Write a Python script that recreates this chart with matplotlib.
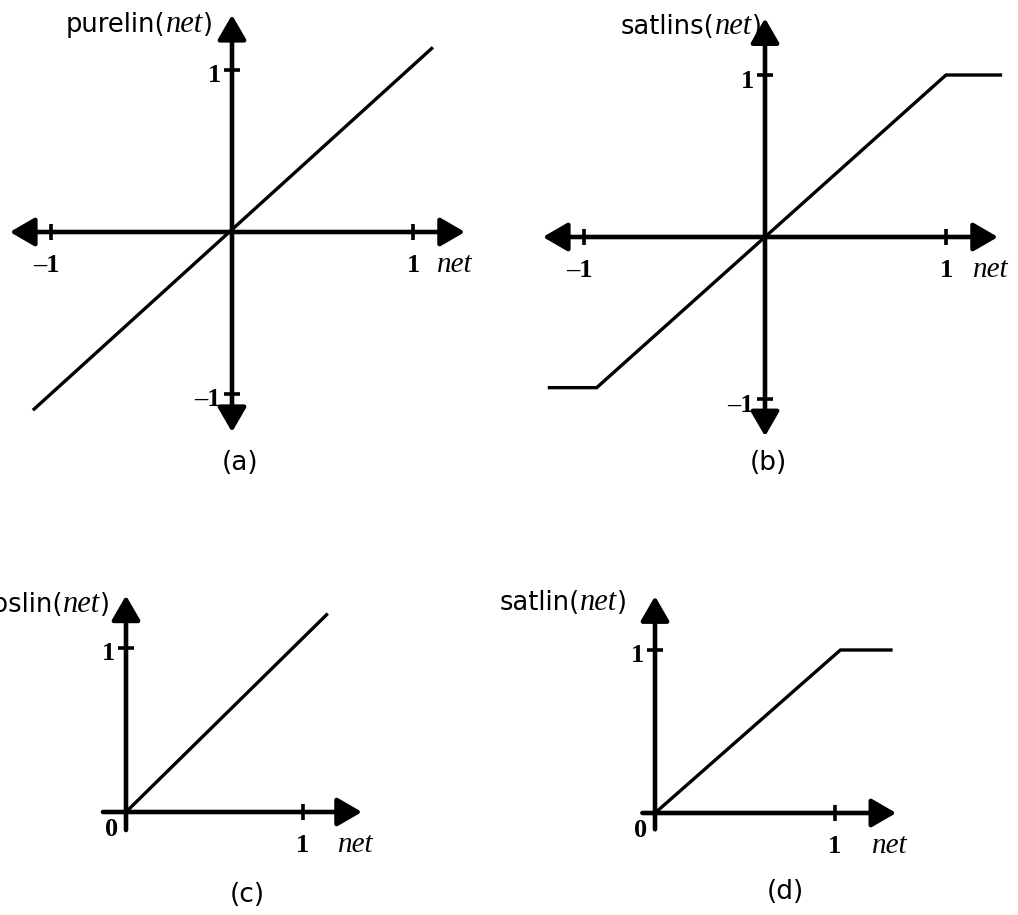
import matplotlib
matplotlib.use("Agg")
import matplotlib.pyplot as plt
from matplotlib.offsetbox import TextArea, HPacker, AnnotationBbox

W, H = 1018, 915

# transfer functions, sampled at their corners
purelin_net = [-1.10, 1.11]
purelin_out = [-1.10, 1.14]
satlins_net = [-1.20, -0.93, 1.00, 1.31]
satlins_out = [-0.93, -0.93, 1.00, 1.00]
poslin_net = [0.0, 1.14]
poslin_out = [0.0, 1.21]
satlin_net = [0.0, 1.03, 1.32]
satlin_out = [0.0, 1.00, 1.00]

sym_ticks = [-1, 1]
pos_ticks = [1]
tick_text = {-1: "\u20131", 1: "1"}

names = ["purelin", "satlins", "poslin", "satlin"]
captions = ["(a)", "(b)", "(c)", "(d)"]

AX_LW = 3.3
FN_LW = 2.4
SANS = "DejaVu Sans"
SERIF = "Liberation Serif"

# pixel layout of each panel: box, origin, unit length, axis extents
panels = [
    dict(net=purelin_net, out=purelin_out, ticks=sym_ticks, both=True,
         box=(0, 0, 509, 480), origin=(232, 232), unit=(181, 162),
         xspan=(-1.227, 1.287), yspan=(-1.235, 1.34),
         title_at=(213, 24), net_at=1.13, cap_at=(240, 463)),
    dict(net=satlins_net, out=satlins_out, ticks=sym_ticks, both=True,
         box=(509, 0, 1018, 480), origin=(765, 237), unit=(181, 162),
         xspan=(-1.227, 1.287), yspan=(-1.23, 1.35),
         title_at=(762, 27), net_at=1.15, cap_at=(768, 463)),
    dict(net=poslin_net, out=poslin_out, ticks=pos_ticks, both=False,
         box=(0, 540, 509, 915), origin=(126, 812), unit=(177, 164),
         xspan=(-0.13, 1.333), yspan=(-0.11, 1.32),
         title_at=(110, 605), net_at=1.20, cap_at=(247, 895)),
    dict(net=satlin_net, out=satlin_out, ticks=pos_ticks, both=False,
         box=(509, 540, 1018, 915), origin=(655, 813), unit=(180, 163),
         xspan=(-0.07, 1.34), yspan=(-0.1, 1.33),
         title_at=(627, 603), net_at=1.205, cap_at=(785, 892)),
]

fig = plt.figure(figsize=(W / 100, H / 100), dpi=100)


def draw_panel(p, name, caption):
    x0, y0, x1, y1 = p["box"]
    ox, oy = p["origin"]
    sx, sy = p["unit"]
    ax = fig.add_axes([x0 / W, 1 - y1 / H, (x1 - x0) / W, (y1 - y0) / H])
    ax.set_xlim((x0 - ox) / sx, (x1 - ox) / sx)
    ax.set_ylim((oy - y1) / sy, (oy - y0) / sy)
    ax.axis("off")

    # axes with arrow heads
    style = "<|-|>" if p["both"] else "-|>"
    arrow = dict(arrowstyle=style + ",head_length=0.5,head_width=0.29",
                 mutation_scale=30, lw=AX_LW, color="black",
                 shrinkA=0, shrinkB=0)
    ax.annotate("", xy=(p["xspan"][1], 0), xytext=(p["xspan"][0], 0),
                arrowprops=arrow, annotation_clip=False)
    ax.annotate("", xy=(0, p["yspan"][1]), xytext=(0, p["yspan"][0]),
                arrowprops=arrow, annotation_clip=False)

    # tick marks
    ticks = p["ticks"]
    ax.plot(ticks, [0] * len(ticks), ls="none", marker="|", ms=12,
            mew=2.6, color="black", clip_on=False)
    ax.plot([0] * len(ticks), ticks, ls="none", marker="_", ms=12,
            mew=2.6, color="black", clip_on=False)

    num = dict(family=SERIF, weight="bold", fontsize=19)
    for t in ticks:
        ax.annotate(tick_text[t], xy=(t, 0), xytext=(-3 if t < 0 else 0, -29),
                    textcoords="offset points", ha="center", va="baseline", **num)
        ax.annotate(tick_text[t], xy=(0, t), xytext=(-8, -9),
                    textcoords="offset points", ha="right", va="baseline", **num)
    if not p["both"]:
        ax.annotate("0", xy=(0, 0), xytext=(-6, -17), textcoords="offset points",
                    ha="right", va="baseline", **num)

    ax.annotate("net", xy=(p["net_at"], 0), xytext=(0, -29),
                textcoords="offset points", ha="left", va="baseline",
                family=SERIF, style="italic", fontsize=21)

    # the function itself
    ax.plot(p["net"], p["out"], color="black", lw=FN_LW,
            solid_capstyle="butt", solid_joinstyle="miter", clip_on=False)

    # y label: name(net)
    parts = [
        TextArea(name + "(", textprops=dict(family=SANS, fontsize=18.5)),
        TextArea("net", textprops=dict(family=SERIF, style="italic", fontsize=22)),
        TextArea(")", textprops=dict(family=SANS, fontsize=18.5)),
    ]
    box = HPacker(children=parts, align="baseline", pad=0, sep=0)
    tx, ty = p["title_at"]
    ab = AnnotationBbox(box, (tx, H - ty), xycoords="figure pixels",
                        box_alignment=(1, 0.5), frameon=False, pad=0)
    fig.add_artist(ab)

    cx, cy = p["cap_at"]
    fig.text(cx / W, 1 - cy / H, caption, ha="center", va="center",
             family=SANS, fontsize=19)


for p, name, cap in zip(panels, names, captions):
    draw_panel(p, name, cap)

fig.savefig("out.png", dpi=100, facecolor="white")
